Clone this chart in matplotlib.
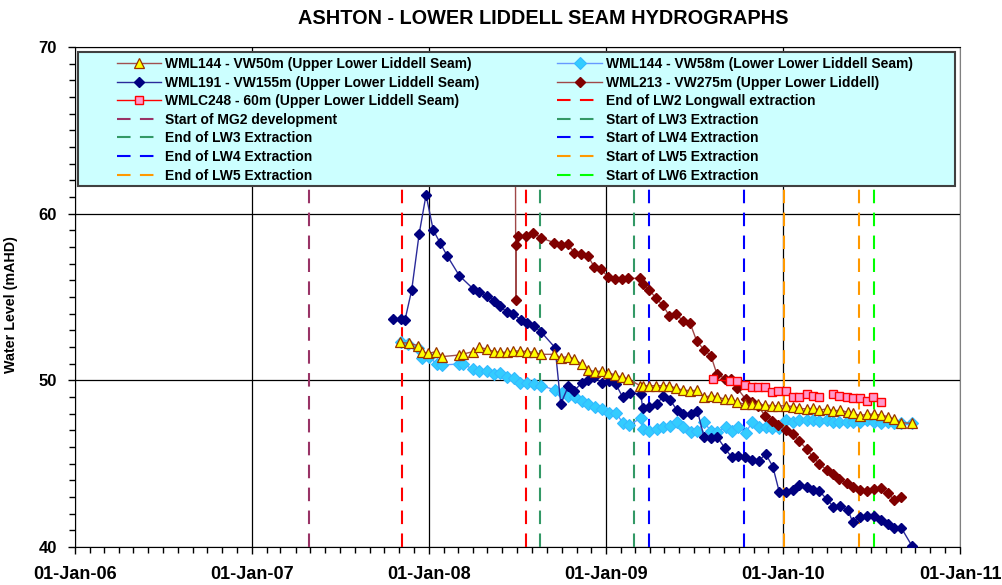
import numpy as np
import pandas as pd
import matplotlib
matplotlib.use("Agg")
import matplotlib.pyplot as plt
import matplotlib.dates as mdates
from matplotlib.patches import Rectangle

plt.rcParams['font.family'] = ['Liberation Sans', 'DejaVu Sans']
plt.rcParams['font.weight'] = 'bold'

# water levels, time in decimal years
wml144_50_t = [2007.836, 2007.888, 2007.939, 2007.958, 2007.996, 2008.040, 2008.072, 2008.171, 2008.194,
               2008.247, 2008.284, 2008.326, 2008.367, 2008.401, 2008.439, 2008.476, 2008.514, 2008.556,
               2008.593, 2008.633, 2008.706, 2008.746, 2008.783, 2008.821, 2008.863, 2008.900, 2008.938,
               2008.976, 2009.013, 2009.051, 2009.089, 2009.126, 2009.192, 2009.207, 2009.245, 2009.282,
               2009.320, 2009.358, 2009.395, 2009.433, 2009.475, 2009.512, 2009.554, 2009.592, 2009.626,
               2009.672, 2009.704, 2009.742, 2009.785, 2009.823, 2009.860, 2009.898, 2009.939, 2009.973,
               2010.017, 2010.058, 2010.092, 2010.134, 2010.167, 2010.205, 2010.247, 2010.284, 2010.322,
               2010.366, 2010.394, 2010.435, 2010.476, 2010.514, 2010.554, 2010.592, 2010.629, 2010.667,
               2010.727]
wml144_50_v = [52.28, 52.22, 52.08, 51.72, 51.62, 51.72, 51.42, 51.52, 51.58,
               51.72, 51.98, 51.88, 51.72, 51.68, 51.68, 51.76, 51.76, 51.72,
               51.68, 51.56, 51.56, 51.36, 51.42, 51.28, 50.96, 50.62, 50.52,
               50.56, 50.46, 50.32, 50.18, 50.08, 49.68, 49.68, 49.68, 49.68,
               49.68, 49.68, 49.52, 49.42, 49.38, 49.40, 48.98, 49.08, 49.02,
               48.86, 48.86, 48.68, 48.56, 48.56, 48.56, 48.52, 48.48, 48.46,
               48.48, 48.42, 48.32, 48.28, 48.32, 48.22, 48.28, 48.16, 48.22,
               48.08, 48.02, 47.88, 47.98, 47.96, 47.92, 47.82, 47.66, 47.46,
               47.42]

wml144_58_t = [2007.840, 2007.883, 2007.939, 2007.958, 2008.000, 2008.043, 2008.072, 2008.171, 2008.194,
               2008.250, 2008.284, 2008.326, 2008.367, 2008.401, 2008.439, 2008.480, 2008.514, 2008.556,
               2008.593, 2008.635, 2008.712, 2008.750, 2008.787, 2008.825, 2008.863, 2008.900, 2008.938,
               2008.976, 2009.019, 2009.055, 2009.094, 2009.132, 2009.200, 2009.209, 2009.245, 2009.286,
               2009.324, 2009.362, 2009.400, 2009.437, 2009.478, 2009.516, 2009.554, 2009.592, 2009.629,
               2009.676, 2009.710, 2009.747, 2009.789, 2009.827, 2009.864, 2009.902, 2009.939, 2009.977,
               2010.017, 2010.058, 2010.092, 2010.134, 2010.171, 2010.205, 2010.247, 2010.284, 2010.318,
               2010.360, 2010.394, 2010.435, 2010.476, 2010.514, 2010.554, 2010.595, 2010.629, 2010.667,
               2010.727]
wml144_58_v = [52.32, 52.16, 51.96, 51.32, 51.42, 50.98, 50.92, 50.98, 50.96,
               50.66, 50.58, 50.56, 50.38, 50.42, 50.22, 50.12, 49.86, 49.82,
               49.76, 49.68, 49.42, 49.22, 49.08, 48.98, 48.76, 48.58, 48.42,
               48.26, 48.02, 48.06, 47.46, 47.32, 47.76, 47.06, 46.98, 47.06,
               47.18, 47.26, 47.52, 47.22, 46.88, 46.96, 47.48, 46.96, 46.92,
               47.18, 46.96, 47.18, 46.86, 47.52, 47.18, 47.18, 47.12, 47.16,
               47.62, 47.48, 47.62, 47.62, 47.62, 47.58, 47.62, 47.52, 47.48,
               47.48, 47.48, 47.52, 47.62, 47.52, 47.46, 47.52, 47.46, 47.42,
               47.42]

wml191_t = [2007.795, 2007.840, 2007.864, 2007.902, 2007.944, 2007.983, 2008.024, 2008.062, 2008.103,
            2008.171, 2008.250, 2008.284, 2008.326, 2008.369, 2008.401, 2008.439, 2008.476, 2008.518,
            2008.556, 2008.593, 2008.635, 2008.712, 2008.744, 2008.787, 2008.821, 2008.863, 2008.900,
            2008.934, 2008.976, 2009.019, 2009.055, 2009.094, 2009.136, 2009.196, 2009.207, 2009.245,
            2009.286, 2009.324, 2009.362, 2009.400, 2009.437, 2009.478, 2009.516, 2009.554, 2009.592,
            2009.629, 2009.672, 2009.710, 2009.747, 2009.785, 2009.823, 2009.864, 2009.902, 2009.942,
            2009.979, 2010.017, 2010.058, 2010.092, 2010.134, 2010.171, 2010.205, 2010.247, 2010.284,
            2010.322, 2010.366, 2010.394, 2010.435, 2010.476, 2010.514, 2010.554, 2010.595, 2010.629,
            2010.667, 2010.727]
wml191_v = [53.66, 53.66, 53.62, 55.42, 58.78, 61.12, 59.00, 58.26, 57.46,
            56.28, 55.48, 55.28, 55.08, 54.78, 54.48, 54.08, 53.98, 53.62,
            53.46, 53.26, 52.88, 51.96, 48.58, 49.66, 49.38, 49.86, 50.02,
            50.18, 49.86, 49.98, 49.78, 48.98, 49.26, 49.18, 48.32, 48.42,
            48.58, 49.06, 48.82, 48.22, 47.96, 47.96, 48.16, 46.58, 46.52,
            46.58, 45.92, 45.38, 45.44, 45.38, 45.22, 45.18, 45.58, 44.82,
            43.28, 43.30, 43.42, 43.70, 43.62, 43.42, 43.36, 42.86, 42.42,
            42.48, 42.22, 41.48, 41.78, 41.86, 41.86, 41.62, 41.36, 41.16,
            41.16, 40.08]

wml213_t = [2008.488, 2008.490, 2008.492, 2008.500, 2008.546, 2008.589, 2008.631, 2008.706, 2008.744,
            2008.783, 2008.821, 2008.859, 2008.897, 2008.934, 2008.972, 2009.013, 2009.051, 2009.089,
            2009.126, 2009.192, 2009.207, 2009.245, 2009.282, 2009.320, 2009.358, 2009.395, 2009.433,
            2009.475, 2009.512, 2009.554, 2009.592, 2009.626, 2009.672, 2009.704, 2009.742, 2009.789,
            2009.823, 2009.860, 2009.898, 2009.936, 2009.973, 2010.017, 2010.058, 2010.092, 2010.134,
            2010.167, 2010.205, 2010.247, 2010.284, 2010.318, 2010.360, 2010.394, 2010.435, 2010.476,
            2010.514, 2010.554, 2010.592, 2010.629, 2010.665]
wml213_v = [64.00, 54.82, 58.12, 58.66, 58.66, 58.86, 58.56, 58.26, 58.12,
            58.16, 57.66, 57.58, 57.48, 56.78, 56.66, 56.18, 56.08, 56.08,
            56.12, 56.12, 55.76, 55.42, 54.92, 54.52, 53.86, 53.98, 53.58,
            53.42, 52.36, 51.82, 51.48, 50.38, 50.10, 50.10, 49.52, 48.86,
            48.72, 48.46, 47.86, 47.58, 47.32, 47.02, 46.78, 46.36, 45.86,
            45.42, 44.98, 44.62, 44.36, 44.08, 43.82, 43.62, 43.42, 43.38,
            43.46, 43.52, 43.22, 42.82, 43.02]

wmlc248_t = [2009.606, 2009.701, 2009.742, 2009.785, 2009.823, 2009.860, 2009.898, 2009.939, 2009.973,
             2010.017, 2010.058, 2010.092, 2010.134, 2010.167, 2010.205, 2010.240, 2010.280, 2010.316,
             2010.360, 2010.394, 2010.435, 2010.476, 2010.510, 2010.554]
wmlc248_v = [50.06, 49.94, 49.98, 49.70, 49.58, 49.62, 49.62, 49.28, 49.38,
             49.38, 49.02, 49.02, 49.16, 49.08, 49.02, np.nan, 49.16, 49.08,
             48.98, 48.94, 48.94, 48.78, 49.02, 48.72]

# mining milestones (decimal years)
events = [
    ("End of LW2 Longwall extraction", [2007.848, 2008.545], "#FF0000"),
    ("Start of MG2 development", [2007.321], "#993366"),
    ("Start of LW3 Extraction", [2008.628], "#339966"),
    ("End of LW3 Extraction", [2009.159], "#339966"),
    ("Start of LW4 Extraction", [2009.242], "#0000FF"),
    ("End of LW4 Extraction", [2009.780], "#0000FF"),
    ("Start of LW5 Extraction", [2010.003], "#FF9900"),
    ("End of LW5 Extraction", [2010.426], "#FF9900"),
    ("Start of LW6 Extraction", [2010.512], "#00FF00"),
]


def to_date(yrs):
    yrs = np.asarray(yrs, dtype=float)
    return pd.Timestamp("2006-01-01") + pd.to_timedelta((yrs - 2006) * 365.25, unit="D")


fig = plt.figure(figsize=(10.02, 5.85), dpi=100)
ax = fig.add_axes([75 / 1002, 38 / 585, 885 / 1002, 500 / 585])

h50, = ax.plot(to_date(wml144_50_t), wml144_50_v, color="#A05050", lw=1, marker="^", ms=7,
               mfc="#FFFF00", mec="#993300", mew=0.9, label="WML144 - VW50m (Upper Lower Liddell Seam)", zorder=6)
h58, = ax.plot(to_date(wml144_58_t), wml144_58_v, color="#6699FF", lw=1, marker="D", ms=6,
               mfc="#33CCFF", mec="#33BBFF", mew=0.8, label="WML144 - VW58m (Lower Lower Liddell Seam)", zorder=5)
h191, = ax.plot(to_date(wml191_t), wml191_v, color="#2A2A9A", lw=1, marker="D", ms=5,
                mfc="#000080", mec="#000080", label="WML191 - VW155m (Upper Lower Liddell Seam)", zorder=5)
h213, = ax.plot(to_date(wml213_t), wml213_v, color="#A04848", lw=1, marker="D", ms=5,
                mfc="#800000", mec="#800000", label="WML213 - VW275m (Upper Lower Liddell)", zorder=5)
h248, = ax.plot(to_date(wmlc248_t), wmlc248_v, color="#FF0000", lw=1, marker="s", ms=6,
                mfc="#FF99CC", mec="#FF0000", mew=1, label="WMLC248 - 60m (Upper Lower Liddell Seam)", zorder=5)

ev_handles = []
for label, yrs, col in events:
    for i, d in enumerate(to_date(yrs)):
        ln = ax.axvline(d, color=col, lw=1.5, ls=(0, (6.5, 4.5)), zorder=4,
                        label=label if i == 0 else None)
        if i == 0:
            ev_handles.append(ln)

ax.set_ylim(40, 70)
ax.set_xlim(to_date([2006.0])[0], pd.Timestamp("2011-01-01"))
ax.set_yticks([40, 50, 60, 70])
ax.yaxis.set_minor_locator(matplotlib.ticker.MultipleLocator(1))
ax.xaxis.set_major_locator(mdates.YearLocator())
ax.xaxis.set_minor_locator(mdates.MonthLocator())
ax.xaxis.set_major_formatter(mdates.DateFormatter("%d-%b-%y"))
ax.tick_params(axis="both", which="major", direction="out", length=5, width=1, labelsize=12, colors="black")
ax.tick_params(axis="x", which="major", pad=9, labelsize=13)
ax.tick_params(axis="y", which="major", pad=8)
ax.tick_params(axis="both", which="minor", direction="out", length=4, width=1)
ax.grid(True, which="major", color="black", lw=0.9)
ax.set_axisbelow(True)
for s in ax.spines.values():
    s.set_color("black")
ax.spines["right"].set_color("#808080")

ax.set_ylabel("Water Level (mAHD)", fontsize=10.3, fontweight="bold", labelpad=9)
ax.yaxis.set_label_coords(-0.064, 0.485)
fig.text(0.5425, 0.968, "ASHTON - LOWER LIDDELL SEAM HYDROGRAPHS", ha="center", va="center",
         fontsize=14.3, fontweight="bold")

# legend box like the original (cyan panel covering the top of the plot)
ax.add_patch(Rectangle((0.0034, 0.722), 0.991, 0.268, transform=ax.transAxes,
                       facecolor="#CCFFFF", edgecolor="#404040", lw=1.5, zorder=7, clip_on=False))

rows = [h50, h58, h191, h213, h248] + ev_handles
order = rows[0::2] + rows[1::2]
leg = ax.legend(order, [h.get_label() for h in order], ncol=2, loc="upper left",
                bbox_to_anchor=(0.047, 0.98), frameon=False, prop={"weight": "bold", "size": 10},
                handlelength=3.2, handletextpad=0.3, columnspacing=5.6, labelspacing=0.33,
                borderpad=0, borderaxespad=0)
leg.set_zorder(8)

fig.savefig("out.png", dpi=100, facecolor="white")
